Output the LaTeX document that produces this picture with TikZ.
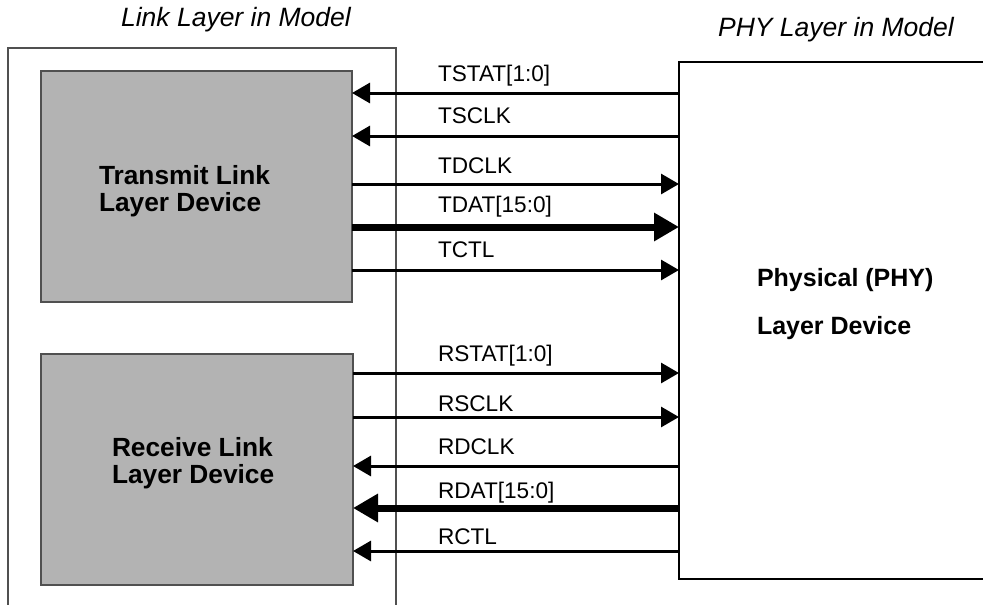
\documentclass[tikz,border=0pt]{standalone}
\usepackage{fontspec}
\setmainfont{Liberation Sans}
\usepackage{tikz}
\usetikzlibrary{arrows.meta}
\definecolor{devgray}{RGB}{179,179,179}
\definecolor{framegray}{RGB}{80,80,80}

\begin{document}
\begin{tikzpicture}[x=1pt,y=-1pt,
      every node/.append style={inner sep=0pt,outer sep=0pt},
      frame/.style={draw=framegray,line width=1.3pt,rectangle,anchor=north west},
      device/.style={frame,fill=devgray},
      title/.style={anchor=base,font=\fontsize{26.5}{30}\selectfont\itshape},
      devtext/.style={anchor=west,align=left,font=\fontsize{26.3}{26.5}\selectfont\bfseries},
      signame/.style={anchor=base west,font=\fontsize{22.6}{26}\selectfont},
      sig/.style={line width=3pt,-{Triangle[length=18pt,width=20pt]}},
      bus/.style={line width=7pt,-{Triangle[length=25pt,width=27pt]}}]
    \clip (0,0) rectangle (983,605);
    \node (linkmodel) [frame,minimum width=388pt,minimum height=580pt] at (8,48) {};
    \node (phy) [frame,draw=black,minimum width=340pt,minimum height=517pt] at (679,62) {};
    \node (tx) [device,minimum width=311pt,minimum height=231pt] at (41,71) {};
    \node (rx) [device,minimum width=312pt,minimum height=231pt] at (41,354) {};
    \node (linktitle) [title] at (236,27) {Link Layer in Model};
    \node (phytitle) [title] at (836,36) {PHY Layer in Model};
    \node (txtext) [devtext] at (99,191) {Transmit Link\\Layer Device};
    \node (rxtext) [devtext] at (112,463) {Receive Link\\Layer Device};
    \node (phytext) [devtext,font=\fontsize{25}{48}\selectfont\bfseries] at (757,304) {Physical (PHY)\\Layer Device};
    \node (tstat) [signame] at (438,81) {TSTAT[1:0]};
    \node (tsclk) [signame] at (438,123) {TSCLK};
    \node (tdclk) [signame] at (438,173) {TDCLK};
    \node (tdat) [signame] at (438,212) {TDAT[15:0]};
    \node (tctl) [signame] at (438,257) {TCTL};
    \node (rstat) [signame] at (438,361) {RSTAT[1:0]};
    \node (rsclk) [signame] at (438,411) {RSCLK};
    \node (rdclk) [signame] at (438,454) {RDCLK};
    \node (rdat) [signame] at (438,498) {RDAT[15:0]};
    \node (rctl) [signame] at (438,544) {RCTL};
    \draw[sig] (phy.west |- 0,93) -- (tx.east |- 0,93);
    \draw[sig] (phy.west |- 0,136) -- (tx.east |- 0,136);
    \draw[sig] (tx.east |- 0,184) -- (phy.west |- 0,184);
    \draw[bus] (tx.east |- 0,227) -- (phy.west |- 0,227);
    \draw[sig] (tx.east |- 0,270) -- (phy.west |- 0,270);
    \draw[sig] (rx.east |- 0,373) -- (phy.west |- 0,373);
    \draw[sig] (rx.east |- 0,417) -- (phy.west |- 0,417);
    \draw[sig] (phy.west |- 0,466) -- (rx.east |- 0,466);
    \draw[bus] (phy.west |- 0,508) -- (rx.east |- 0,508);
    \draw[sig] (phy.west |- 0,551) -- (rx.east |- 0,551);
\end{tikzpicture}
\end{document}
